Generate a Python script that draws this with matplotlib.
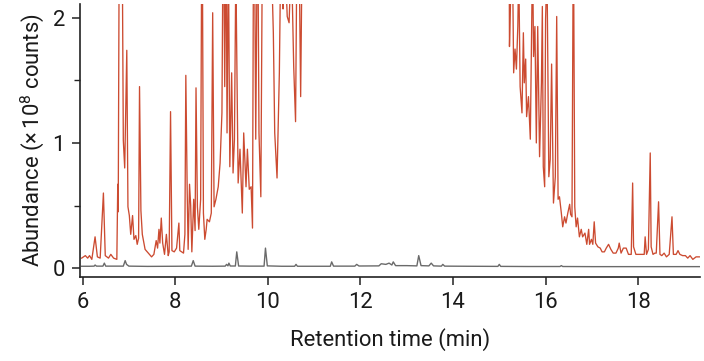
import matplotlib
matplotlib.use("Agg")
import matplotlib.pyplot as plt
from matplotlib.ticker import MultipleLocator

# red trace (sample), abundance in 1e8 counts; values > 2.1 run off the top
red_t = [5.98, 6.06, 6.11, 6.15, 6.20, 6.27, 6.32, 6.38, 6.45, 6.49, 6.56, 6.61, 6.67, 6.74,
         6.76, 6.77, 6.80, 6.85, 6.88, 6.91, 6.955, 6.98, 7.01, 7.04, 7.08, 7.11, 7.15, 7.18,
         7.21, 7.23, 7.26, 7.29, 7.35, 7.42, 7.49, 7.54, 7.59, 7.62, 7.65, 7.67, 7.70, 7.73,
         7.77, 7.81, 7.85, 7.87, 7.90, 7.93, 7.98, 8.03, 8.08, 8.10, 8.18, 8.21, 8.23, 8.26,
         8.28, 8.31, 8.335, 8.36, 8.40, 8.43, 8.45, 8.48, 8.51, 8.55, 8.58, 8.61, 8.64, 8.67,
         8.69, 8.74, 8.78, 8.81, 8.84, 8.88, 8.93, 8.97, 9.01, 9.04, 9.07, 9.10, 9.12, 9.15,
         9.18, 9.22, 9.25, 9.28, 9.31, 9.36, 9.40, 9.45, 9.48, 9.53, 9.56, 9.60, 9.64, 9.67,
         9.70, 9.74, 9.78, 9.81, 9.85, 9.89, 9.94, 9.99, 10.05, 10.09, 10.12, 10.15, 10.20,
         10.25, 10.28, 10.33, 10.38, 10.42, 10.46, 10.51, 10.56, 10.60, 10.63, 10.68, 10.71,
         10.74, 11.2, 12.5, 14.0, 15.0, 15.21, 15.22, 15.26, 15.29, 15.31, 15.34, 15.37, 15.40,
         15.42, 15.45, 15.49, 15.52, 15.54, 15.57, 15.59, 15.63, 15.67, 15.70, 15.72, 15.74,
         15.77, 15.80, 15.83, 15.87, 15.91, 15.93, 15.95, 15.98, 16.00, 16.03, 16.07, 16.10,
         16.13, 16.17, 16.21, 16.24, 16.27, 16.30, 16.34, 16.37, 16.41, 16.44, 16.48, 16.52,
         16.54, 16.57, 16.60, 16.63, 16.66, 16.69, 16.73, 16.77, 16.80, 16.85, 16.89, 16.93,
         16.95, 16.99, 17.02, 17.05, 17.08, 17.13, 17.18, 17.22, 17.27, 17.31, 17.36, 17.41,
         17.46, 17.52, 17.57, 17.59, 17.63, 17.68, 17.74, 17.79, 17.85, 17.88, 17.90, 17.95,
         18.02, 18.13, 18.15, 18.18, 18.22, 18.26, 18.28, 18.32, 18.36, 18.39, 18.44, 18.47,
         18.51, 18.56, 18.61, 18.67, 18.73, 18.76, 18.82, 18.86, 18.90, 18.96, 19.02, 19.07,
         19.12, 19.18, 19.25, 19.32]
red_y = [0.08, 0.10, 0.08, 0.10, 0.07, 0.25, 0.09, 0.08, 0.60, 0.10, 0.08, 0.11, 0.08, 0.07,
         0.67, 0.45, 3.5, 3.0, 1.02, 0.80, 1.74, 0.49, 0.42, 0.27, 0.42, 0.23, 0.26, 0.19,
         0.24, 1.45, 0.46, 0.27, 0.15, 0.12, 0.09, 0.11, 0.22, 0.16, 0.31, 0.20, 0.40, 0.20,
         0.11, 0.27, 0.10, 0.13, 1.25, 0.14, 0.13, 0.16, 0.36, 0.14, 0.12, 0.27, 1.54, 0.60,
         0.15, 0.67, 0.50, 0.13, 0.55, 0.30, 1.44, 0.49, 0.31, 0.55, 3.2, 0.44, 0.23, 0.31,
         0.39, 0.37, 0.44, 2.04, 0.49, 0.55, 0.65, 0.84, 1.24, 3.0, 1.45, 2.8, 1.08, 2.5,
         0.81, 1.56, 0.76, 1.03, 2.4, 0.68, 0.95, 0.44, 1.08, 0.65, 0.95, 0.63, 0.65, 0.32,
         3.5, 1.03, 3.0, 1.08, 0.57, 3.0, 2.6, 3.0, 2.5, 2.3, 1.88, 1.08, 0.72,
         1.56, 2.5, 2.07, 2.4, 2.01, 1.96, 2.5, 1.61, 1.17, 2.6, 2.4, 1.37,
         2.5, 4.0, 5.0, 5.0, 4.0, 3.0, 1.77, 2.4, 2.3, 1.56, 1.75, 1.59, 1.93,
         2.4, 1.45, 1.24, 1.88, 1.48, 1.67, 1.21, 1.37, 1.03, 1.99, 2.5, 1.69,
         1.93, 1.00, 1.93, 0.89, 1.48, 2.09, 0.81, 0.65, 1.99, 2.4, 0.73, 0.87,
         1.63, 0.52, 0.73, 2.01, 0.55, 0.57, 0.44, 0.33, 0.41, 0.36, 0.44, 0.51,
         0.43, 0.41, 2.8, 0.49, 0.33, 0.40, 0.25, 0.31, 0.25, 0.28, 0.19, 0.31,
         0.19, 0.23, 0.19, 0.37, 0.20, 0.17, 0.16, 0.13, 0.13, 0.16, 0.19, 0.15,
         0.12, 0.12, 0.16, 0.20, 0.12, 0.16, 0.16, 0.11, 0.11, 0.68, 0.17, 0.11,
         0.11, 0.11, 0.25, 0.11, 0.15, 0.92, 0.17, 0.11, 0.12, 0.12, 0.53, 0.11,
         0.10, 0.12, 0.09, 0.11, 0.41, 0.11, 0.11, 0.14, 0.11, 0.10, 0.10, 0.08,
         0.10, 0.07, 0.09, 0.09]

# grey trace (blank)
grey_t = [5.98, 6.15, 6.25, 6.27, 6.30, 6.44, 6.47, 6.50, 6.88, 6.92, 6.95, 7.00, 7.40, 8.00,
          8.35, 8.39, 8.43, 8.80, 9.08, 9.11, 9.14, 9.16, 9.19, 9.30, 9.33, 9.37, 9.60, 9.92,
          9.95, 9.99, 10.30, 10.58, 10.61, 10.64, 11.00, 11.35, 11.38, 11.42, 11.88, 11.92,
          11.97, 12.40, 12.45, 12.55, 12.62, 12.68, 12.71, 12.76, 13.00, 13.22, 13.26, 13.31,
          13.48, 13.53, 13.58, 13.75, 13.78, 13.82, 14.30, 14.97, 15.00, 15.03, 15.60, 16.31,
          16.34, 16.37, 17.00, 18.00, 19.32]
grey_y = [0.015, 0.015, 0.016, 0.025, 0.016, 0.016, 0.04, 0.016, 0.016, 0.06, 0.03, 0.016,
          0.014, 0.015, 0.016, 0.06, 0.016, 0.015, 0.016, 0.03, 0.018, 0.04, 0.017, 0.017,
          0.13, 0.017, 0.016, 0.016, 0.16, 0.018, 0.015, 0.015, 0.03, 0.015, 0.015, 0.015,
          0.05, 0.016, 0.016, 0.03, 0.017, 0.018, 0.035, 0.03, 0.04, 0.025, 0.05, 0.02,
          0.02, 0.018, 0.10, 0.02, 0.018, 0.04, 0.018, 0.016, 0.03, 0.016, 0.015, 0.014,
          0.03, 0.014, 0.013, 0.013, 0.02, 0.013, 0.012, 0.012, 0.012]

plt.rcParams['font.family'] = ['Roboto', 'DejaVu Sans']
plt.rcParams['mathtext.fontset'] = 'custom'
plt.rcParams['mathtext.rm'] = 'Roboto'

fig = plt.figure(figsize=(7.04, 3.61), dpi=100)
ax = fig.add_axes([0.114, 0.234, 0.880, 0.755])

ax.plot(grey_t, grey_y, color='#6a6a6a', lw=1.0)
ax.plot(red_t, red_y, color='#cc4b31', lw=0.95)

ax.set_xlim(5.95, 19.33)
ax.set_ylim(-0.067, 2.11)
ax.set_xticks(range(6, 19, 2))
ax.set_yticks([0, 1, 2])
ax.yaxis.set_minor_locator(MultipleLocator(0.5))

for s in ['top', 'right']:
    ax.spines[s].set_visible(False)
for s in ['left', 'bottom']:
    ax.spines[s].set_color('#222222')
    ax.spines[s].set_linewidth(1.2)

ax.tick_params(which='major', length=6, width=1.1, color='#222222',
               labelsize=15.8, labelcolor='#1a1a1a', pad=5)
ax.tick_params(which='minor', length=4, width=1.0, color='#222222')

ax.set_xlabel('Retention time (min)', fontsize=15.8, color='#1a1a1a', labelpad=11)
ax.set_ylabel(r'Abundance (×$\,$10$^{8}$ counts)', fontsize=15.8, color='#1a1a1a', labelpad=5)

fig.savefig('out.png', dpi=100)
